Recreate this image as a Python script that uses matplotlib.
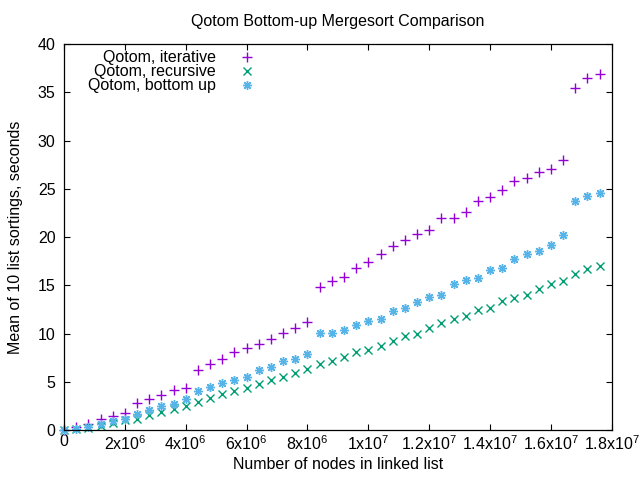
import matplotlib
matplotlib.use('Agg')
import matplotlib.pyplot as plt
from matplotlib.ticker import FixedLocator
import numpy as np

plt.rcParams['font.family'] = ['Liberation Sans', 'DejaVu Sans']
plt.rcParams['mathtext.fontset'] = 'custom'
plt.rcParams['mathtext.rm'] = 'Liberation Sans'
plt.rcParams['mathtext.default'] = 'regular'

# list sizes: every 400000 nodes
nodes = [k * 400000 for k in range(45)]

iterative = [0.0, 0.3, 0.6, 1.1, 1.45, 1.8, 2.8, 3.2, 3.6, 4.15,
             4.4, 6.2, 6.8, 7.35, 8.1, 8.55, 8.9, 9.4, 10.05, 10.55,
             11.25, 14.8, 15.5, 15.85, 16.75, 17.4, 18.2, 19.1, 19.65, 20.3,
             20.7, 21.95, 21.95, 22.65, 23.7, 24.2, 24.85, 25.8, 26.1, 26.7,
             27.1, 28.0, 35.5, 36.45, 36.95]

recursive = [0.0, 0.15, 0.25, 0.45, 0.7, 1.05, 1.2, 1.55, 1.9, 2.2,
             2.5, 2.95, 3.3, 3.7, 4.0, 4.35, 4.75, 5.15, 5.55, 5.9,
             6.3, 6.8, 7.15, 7.55, 8.05, 8.35, 8.75, 9.2, 9.7, 10.0,
             10.55, 11.05, 11.55, 11.8, 12.4, 12.7, 13.35, 13.65, 14.05, 14.6,
             15.1, 15.5, 16.15, 16.65, 17.05]

bottom_up = [0.0, 0.1, 0.35, 0.6, 0.95, 1.2, 1.7, 2.05, 2.5, 2.75,
             3.2, 4.1, 4.45, 4.85, 5.2, 5.55, 6.2, 6.5, 7.15, 7.4,
             7.85, 10.05, 10.05, 10.4, 10.85, 11.35, 11.55, 12.3, 12.7, 13.25,
             13.75, 14.05, 15.1, 15.6, 15.8, 16.55, 16.85, 17.7, 18.2, 18.6,
             19.15, 20.2, 23.7, 24.3, 24.6]

xticks = [0, 2e6, 4e6, 6e6, 8e6, 1e7, 1.2e7, 1.4e7, 1.6e7, 1.8e7]
xtick_labels = ['0', r'2x10$^{6}$', r'4x10$^{6}$', r'6x10$^{6}$', r'8x10$^{6}$',
                r'1x10$^{7}$', r'1.2x10$^{7}$', r'1.4x10$^{7}$', r'1.6x10$^{7}$',
                r'1.8x10$^{7}$']

fs = 11.5

fig = plt.figure(figsize=(6.4, 4.8), dpi=100)
ax = fig.add_axes([0.1, 0.104, 0.856, 0.804])

ax.plot(nodes, iterative, linestyle='none', marker='+', ms=7, mew=1.0,
        color='#9400d3', label='Qotom, iterative', clip_on=False)
ax.plot(nodes, recursive, linestyle='none', marker='x', ms=5.5, mew=1.0,
        color='#009e73', label='Qotom, recursive', clip_on=False)
ax.plot(nodes, bottom_up, linestyle='none', marker=(8, 2, 0), ms=6.5, mew=1.0,
        color='#56b4e9', label='Qotom, bottom up', clip_on=False)

ax.set_xlim(0, 1.8e7)
ax.set_ylim(0, 40)
ax.xaxis.set_major_locator(FixedLocator(xticks))
ax.set_xticklabels(xtick_labels)
ax.set_yticks(range(0, 41, 5))
ax.tick_params(direction='in', length=4, width=0.8, top=True, right=True,
               labelsize=fs, colors='black')
ax.tick_params(axis='x', pad=3)
ax.tick_params(axis='y', pad=6)
for s in ax.spines.values():
    s.set_linewidth(0.9)

ax.set_title('Qotom Bottom-up Mergesort Comparison', fontsize=fs, pad=13)
ax.set_xlabel('Number of nodes in linked list', fontsize=fs, labelpad=3)
ax.set_ylabel('Mean of 10 list sortings, seconds', fontsize=fs, labelpad=11)

ax.legend(loc='upper left', bbox_to_anchor=(0.02, 1.017), frameon=False,
          markerfirst=False, fontsize=fs, handlelength=1.2, handletextpad=1.35,
          labelspacing=-0.06, borderpad=0.3)

fig.savefig('out.png', dpi=100)
